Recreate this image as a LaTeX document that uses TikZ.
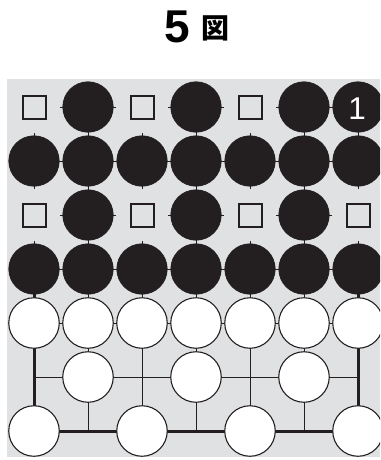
\documentclass[tikz,border=0pt]{standalone}
\usepackage{fontspec}
\setmainfont{Liberation Sans}
\newfontfamily\cjk{Noto Sans CJK JP}
\definecolor{bg}{HTML}{E0E1E3}
\definecolor{ink}{HTML}{231F20}
\tikzset{
  bstone/.style={circle,fill=ink,draw=ink,line width=0.6pt,minimum size=50.5pt,inner sep=0pt},
  wstone/.style={circle,fill=white,draw=ink,line width=1.1pt,minimum size=50.5pt,inner sep=0pt},
  sqmark/.style={rectangle,draw=ink,line width=2pt,minimum size=23pt,inner sep=0pt},
  blank/.style={rectangle,fill=bg,minimum size=52pt,inner sep=0pt},
  thin/.style={draw=ink,line width=0.9pt},
  thick/.style={draw=ink,line width=3pt}
}
\begin{document}
\begin{tikzpicture}[x=1pt,y=-1pt]
\useasboundingbox (0,0) rectangle (380,460);
\fill[white] (0,0) rectangle (380,460);
\node[anchor=base,inner sep=0pt,font=\fontsize{46}{46}\selectfont\bfseries] (title5) at (177.5,42) {5};
\node[anchor=base,inner sep=0pt,font=\fontsize{28}{28}\selectfont\cjk\bfseries] (titlez) at (215,38) {図};
\begin{scope}
\clip (7,79) rectangle (380,457);
\fill[bg] (7,79) rectangle (380,457);
% grid
\foreach \r in {1,...,7} {
  \draw[thin] (34,{107+(\r-1)*54}) -- (358,{107+(\r-1)*54});
}
\foreach \c in {1,...,7} {
  \draw[thin] ({34+(\c-1)*54},107) -- ({34+(\c-1)*54},431);
}
\draw[thick] (34,269) -- (34,431) -- (358,431) -- (358,269);
% blanks and square marks
\foreach \r/\c in {1/1,1/3,1/5,3/1,3/3,3/5,3/7} {
  \node[blank] (bl-\r-\c) at ({34+(\c-1)*54},{107+(\r-1)*54}) {};
  \node[sqmark] (sq-\r-\c) at ({34+(\c-1)*54},{107+(\r-1)*54}) {};
}
% black stones
\foreach \r/\c in {1/2,1/4,1/6,1/7,2/1,2/2,2/3,2/4,2/5,2/6,2/7,3/2,3/4,3/6,4/1,4/2,4/3,4/4,4/5,4/6,4/7} {
  \node[bstone] (b-\r-\c) at ({34+(\c-1)*54},{107+(\r-1)*54}) {};
}
% white stones
\foreach \r/\c in {5/1,5/2,5/3,5/4,5/5,5/6,5/7,6/2,6/4,6/6,7/1,7/3,7/5,7/7} {
  \node[wstone] (w-\r-\c) at ({34+(\c-1)*54},{107+(\r-1)*54}) {};
}
\node[anchor=base,inner sep=0pt,text=white,font=\fontsize{31.5}{31.5}\selectfont] (one) at (357.2,119.3) {1};
\end{scope}
\end{tikzpicture}
\end{document}
